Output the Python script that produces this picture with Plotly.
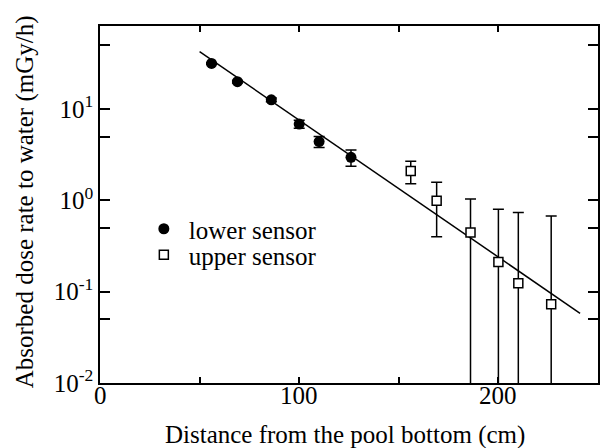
import plotly.graph_objects as go

# Lower sensor (filled circles)
lower_x = [56, 69, 86, 100, 110, 126]
lower_y = [31.6, 19.9, 12.6, 6.85, 4.4, 2.96]
lower_err = [0.6, 0.6, 0.6, 0.7, 0.6, 0.6]

# Upper sensor (open squares)
upper_x = [156, 169, 186, 200, 210, 226.5]
upper_y = [2.1, 0.99, 0.445, 0.211, 0.124, 0.0726]
upper_err = [0.58, 0.59, 0.59, 0.59, 0.61, 0.60]

# Fitted exponential line (end points)
fit_x = [50, 241]
fit_y = [42.5, 0.058]

y_tickvals = [0.01, 0.1, 1, 10]
y_ticktext = ["10<sup>-2</sup>", "10<sup>-1</sup>", "10<sup>0</sup>", "10<sup>1</sup>"]
y_minor = [0.05, 0.5, 5, 50]
x_tickvals = [0, 100, 200]
x_ticktext = ["0", "100", "200"]
x_minor = [50, 150]

FONT = "Liberation Serif"

fig = go.Figure()
fig.add_trace(go.Scatter(
    x=fit_x, y=fit_y, mode="lines",
    line=dict(color="black", width=1.5), showlegend=False, hoverinfo="skip"))
fig.add_trace(go.Scatter(
    x=lower_x, y=lower_y, mode="markers", name="lower sensor",
    marker=dict(symbol="circle", size=11, color="black"),
    error_y=dict(type="data", array=lower_err, color="black", thickness=1.5, width=5.5),
    legend="legend"))
fig.add_trace(go.Scatter(
    x=upper_x, y=upper_y, mode="markers", name="upper sensor",
    marker=dict(symbol="square", size=9, color="white", line=dict(color="black", width=1.5)),
    error_y=dict(type="data", array=upper_err, color="black", thickness=1.5, width=5.5),
    legend="legend2"))

legend_common = dict(font=dict(family=FONT, size=25, color="black"),
                     bgcolor="rgba(0,0,0,0)", borderwidth=0, itemwidth=40,
                     xanchor="left", yanchor="middle")

annotations = [dict(
    text="Absorbed dose rate to water (mGy/h)", textangle=-90,
    xref="paper", yref="paper", x=(25 - 100) / 500, y=(383 - 202) / 357,
    xanchor="center", yanchor="middle", showarrow=False,
    font=dict(family=FONT, size=25, color="black"))]
annotations.append(dict(
    text="Distance from the pool bottom (cm)",
    xref="paper", yref="paper", x=(346 - 100) / 500, y=(383 - 435) / 357,
    xanchor="center", yanchor="middle", showarrow=False,
    font=dict(family=FONT, size=25, color="black")))
for v, t in zip(x_tickvals, x_ticktext):
    annotations.append(dict(
        text=t, x=v, xref="x", yref="paper", y=0, yshift=-12,
        xanchor="center", yanchor="middle", showarrow=False,
        font=dict(family=FONT, size=25, color="black")))

fig.update_layout(
    width=601, height=448,
    margin=dict(l=100, r=1, t=26, b=65),
    paper_bgcolor="white", plot_bgcolor="white",
    font=dict(family=FONT, size=25, color="black"),
    legend=dict(x=(139 - 100) / 500, y=(383 - 229) / 357, **legend_common),
    legend2=dict(x=(139 - 100) / 500, y=(383 - 255) / 357, **legend_common),
    xaxis=dict(
        range=[0, 250], tickmode="array", tickvals=x_tickvals,
        ticks="inside", ticklen=6, tickwidth=1.5, tickcolor="black",
        minor=dict(tickmode="array", tickvals=x_minor, ticks="inside", ticklen=6,
                   tickwidth=1.5, tickcolor="black", showgrid=False),
        showline=True, linecolor="black", linewidth=1.5, mirror="ticks",
        showgrid=False, zeroline=False, showticklabels=False,
    ),
    yaxis=dict(
        type="log", range=[-2, 1.909], tickmode="array",
        tickvals=y_tickvals, ticktext=y_ticktext,
        ticks="inside", ticklen=10, tickwidth=1.5, tickcolor="black",
        minor=dict(tickmode="array", tickvals=y_minor, ticks="inside", ticklen=10,
                   tickwidth=1.5, tickcolor="black", showgrid=False),
        showline=True, linecolor="black", linewidth=1.5, mirror="ticks",
        showgrid=False, zeroline=False,
        tickfont=dict(family=FONT, size=25),
    ),
    annotations=annotations,
)

fig.write_html("out.html", config={"displayModeBar": False},
               post_script="document.body.style.margin='0';")
